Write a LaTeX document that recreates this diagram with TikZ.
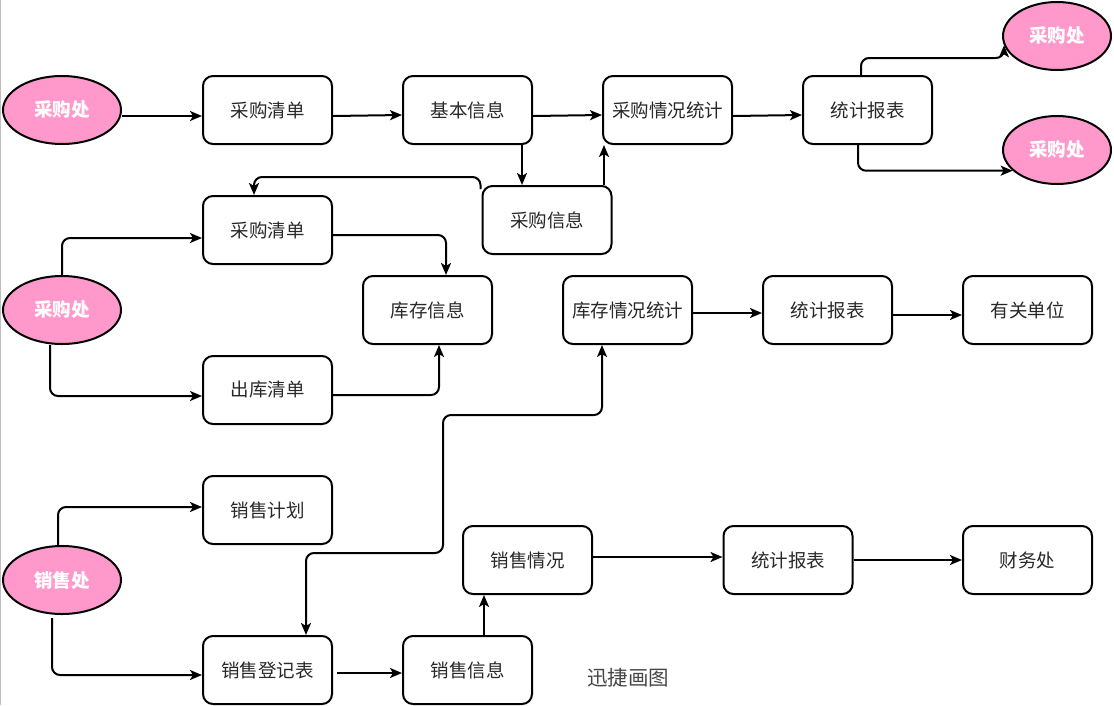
\documentclass[tikz,border=0pt]{standalone}
\usepackage{fontspec}
\newfontfamily\cjk{Noto Sans CJK SC}
\usetikzlibrary{shapes.geometric,arrows.meta}
\definecolor{pinkfill}{RGB}{255,153,204}
\definecolor{txt}{RGB}{40,40,40}
\definecolor{wm}{RGB}{70,70,70}
\tikzset{
  box/.style={draw=black, line width=2pt, rounded corners=10pt, fill=white,
    minimum width=129pt, minimum height=68pt, inner sep=0pt,
    font=\cjk\fontsize{18.5}{20}\selectfont, text=txt},
  org/.style={ellipse, draw=black, line width=2pt, fill=pinkfill,
    minimum width=118pt, minimum height=68pt, inner sep=0pt,
    font=\cjk\bfseries\fontsize{18.5}{20}\selectfont, text=white},
  orgs/.style={org, minimum width=108pt},
  arr/.style={draw=black, line width=2pt, rounded corners=8pt,
    -{Stealth[length=12pt,width=10pt,inset=3pt]}},
  arrb/.style={draw=black, line width=2pt, rounded corners=8pt,
    {Stealth[length=12pt,width=10pt,inset=3pt]}-{Stealth[length=12pt,width=10pt,inset=3pt]}},
}
\begin{document}
\begin{tikzpicture}[x=1pt,y=-1pt]
\useasboundingbox (0,0) rectangle (1114,705);
\fill[white] (0,0) rectangle (1114,705);
\draw[gray!50, line width=1.2pt] (0.6,0) -- (0.6,705);

% row 1
\node[org] (e1) at (62,110) {采购处};
\node[box] (p1) at (267.5,110) {采购清单};
\node[box] (p2) at (467.5,110) {基本信息};
\node[box] (p3) at (667.5,110) {采购情况统计};
\node[box] (p4) at (867.5,110) {统计报表};
\node[orgs] (e2) at (1057,36) {采购处};
\node[orgs] (e3) at (1057,150) {采购处};
\node[box] (pi) at (547,220) {采购信息};

% row 2
\node[org] (em) at (62,310) {采购处};
\node[box] (q1) at (267.5,230) {采购清单};
\node[box] (q2) at (427.5,310) {库存信息};
\node[box] (q3) at (627.5,310) {库存情况统计};
\node[box] (q4) at (827.5,310) {统计报表};
\node[box] (q5) at (1027.5,310) {有关单位};
\node[box] (q6) at (267.5,390) {出库清单};

% row 3
\node[org] (es) at (62,580) {销售处};
\node[box] (s1) at (267.5,510) {销售计划};
\node[box] (s2) at (527.5,560) {销售情况};
\node[box] (s3) at (788,560) {统计报表};
\node[box] (s4) at (1027.5,560) {财务处};
\node[box] (s5) at (267.5,670) {销售登记表};
\node[box] (s6) at (467.5,670) {销售信息};

\node[font=\cjk\fontsize{20.5}{22}\selectfont, text=wm] (wmk) at (628,678) {迅捷画图};

\coordinate (m1) at (443,415);
\coordinate (m2) at (443,553);

% edges row 1
\draw[arr] ([yshift=-6pt]e1.east) -- ([yshift=-6pt]p1.west);
\draw[arr] ([yshift=-6pt]p1.east) -- ([yshift=-5pt]p2.west);
\draw[arr] ([yshift=-6pt]p2.east) -- ([yshift=-5pt]p3.west);
\draw[arr] ([yshift=-6pt]p3.east) -- ([yshift=-5pt]p4.west);
\draw[arr] ([xshift=54.5pt]p2.south) -- ([xshift=54.5pt]p2.south |- pi.north);
\draw[arr] ([xshift=57pt]pi.north) -- ([xshift=57pt]pi.north |- p3.south);
\draw[arr] ([xshift=-6.5pt]p4.north) -- ++(0,-17) -| (e2.190);
\draw[arr] ([xshift=-9.5pt]p4.south) |- (e3.205);
\draw[arr] ([xshift=-1pt,yshift=-4pt]pi.north west) -- ++(0,-12) -| ([xshift=-13.5pt]q1.north);

% edges row 2
\draw[arr] (em.north) |- ([yshift=-8pt]q1.west);
\draw[arr] ([xshift=-12pt]em.south) |- ([yshift=-6pt]q6.west);
\draw[arr] ([yshift=-5pt]q1.east) -| ([xshift=18.5pt]q2.north);
\draw[arr] ([yshift=-5pt]q6.east) -| ([xshift=11.5pt]q2.south);
\draw[arr] ([yshift=-3pt]q3.east) -- ([yshift=-3pt]q4.west);
\draw[arr] ([yshift=-5pt]q4.east) -- ([yshift=-5pt]q5.west);
\draw[arrb] ([xshift=-25.5pt]q3.south) |- (m1) -- (m2) -| ([xshift=38.5pt]s5.north);

% edges row 3
\draw[arr] ([xshift=-4pt]es.north) |- ([yshift=3pt]s1.west);
\draw[arr] ([xshift=-10pt,yshift=-3pt]es.south) |- ([yshift=-5pt]s5.west);
\draw[arr] ([xshift=4pt,yshift=-3pt]s5.east) -- ([yshift=-3pt]s6.west);
\draw[arr] ([xshift=16.5pt]s6.north) -- ([xshift=16.5pt]s6.north |- s2.south);
\draw[arr] ([yshift=3pt]s2.east) -- ([yshift=3pt]s3.west);
\draw[arr] (s3.east) -- (s4.west);
\end{tikzpicture}
\end{document}
